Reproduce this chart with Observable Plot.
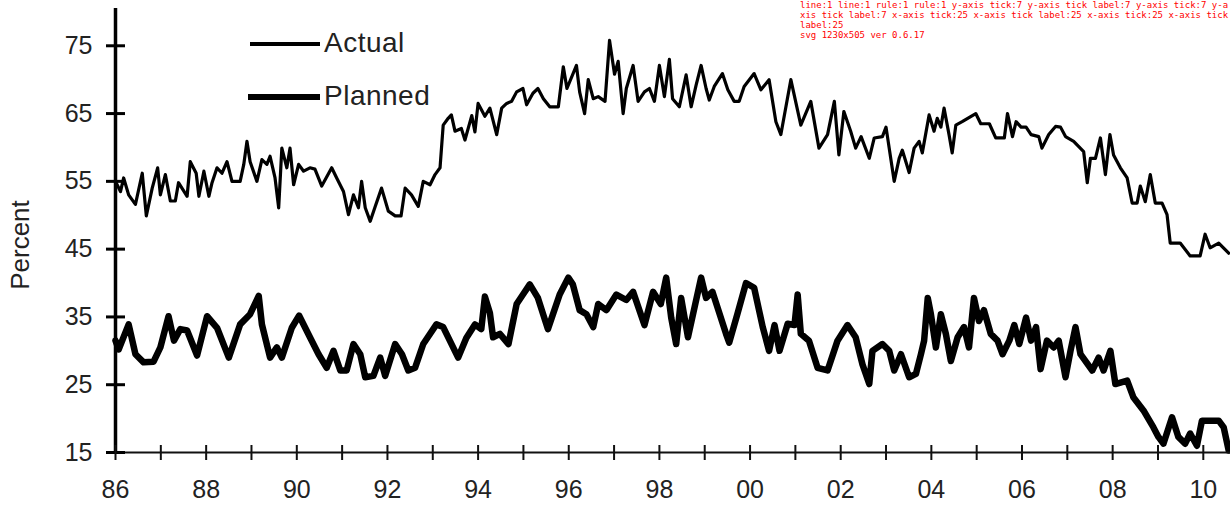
<!DOCTYPE html>
<html>
<head>
<meta charset="utf-8">
<script src="https://cdn.jsdelivr.net/npm/d3@7"></script>
<script src="https://cdn.jsdelivr.net/npm/@observablehq/plot@0.6"></script>
<style>
  html, body { margin: 0; padding: 0; background: #fff; }
  #wrap { position: relative; width: 1230px; height: 505px; overflow: hidden; }
  .leg-line { position: absolute; background: #000; }
  .leg-text { position: absolute; font-family: "Liberation Sans", Arial, sans-serif; font-size: 28px; line-height: 28px; letter-spacing: 0.5px; color: #222; white-space: nowrap; }
  #ylabel { position: absolute; font-family: "Liberation Sans", Arial, sans-serif; font-size: 26px; line-height: 30px; color: #222; white-space: nowrap; }
  #dbg { position: absolute; left: 800px; top: 0px; width: 430px; font: 9px monospace; color: red; white-space: pre-wrap; word-break: break-all; }
</style>
</head>
<body>
<div id="wrap"></div>
<script>
// ---- data ----
const actualYears = [1986.00,1986.11,1986.18,1986.29,1986.44,1986.59,1986.68,1986.81,1986.93,1986.99,1987.10,1987.21,1987.32,1987.39,1987.58,1987.65,1987.78,1987.84,1987.95,1988.06,1988.13,1988.24,1988.35,1988.46,1988.57,1988.75,1988.83,1988.90,1988.97,1989.12,1989.23,1989.34,1989.41,1989.52,1989.60,1989.67,1989.78,1989.85,1989.93,1990.04,1990.15,1990.29,1990.40,1990.55,1990.77,1990.88,1991.03,1991.14,1991.25,1991.36,1991.43,1991.51,1991.62,1991.73,1991.87,1992.02,1992.17,1992.30,1992.39,1992.53,1992.68,1992.79,1992.94,1993.05,1993.16,1993.23,1993.34,1993.41,1993.49,1993.63,1993.71,1993.86,1993.93,1994.00,1994.15,1994.26,1994.41,1994.52,1994.63,1994.74,1994.85,1994.99,1995.07,1995.21,1995.32,1995.44,1995.58,1995.77,1995.88,1995.96,1996.17,1996.24,1996.35,1996.43,1996.54,1996.65,1996.80,1996.90,1997.01,1997.09,1997.20,1997.27,1997.42,1997.53,1997.67,1997.78,1997.89,1998.00,1998.11,1998.22,1998.29,1998.44,1998.59,1998.70,1998.81,1998.92,1999.03,1999.10,1999.21,1999.39,1999.51,1999.65,1999.76,1999.87,2000.09,2000.24,2000.42,2000.57,2000.68,2000.90,2001.12,2001.34,2001.52,2001.71,2001.86,2001.96,2002.07,2002.22,2002.33,2002.45,2002.63,2002.74,2002.92,2003.00,2003.18,2003.29,2003.36,2003.51,2003.62,2003.73,2003.80,2003.95,2004.06,2004.13,2004.21,2004.28,2004.39,2004.46,2004.54,2004.68,2004.98,2005.09,2005.28,2005.42,2005.61,2005.68,2005.79,2005.87,2005.98,2006.09,2006.20,2006.37,2006.44,2006.59,2006.74,2006.85,2006.96,2007.14,2007.36,2007.44,2007.51,2007.62,2007.73,2007.84,2007.94,2008.02,2008.17,2008.32,2008.43,2008.54,2008.61,2008.72,2008.83,2008.94,2009.09,2009.20,2009.27,2009.49,2009.71,2009.93,2010.04,2010.15,2010.34,2010.56];
const actualValues = [55.0,53.5,55.5,53.0,51.6,56.2,49.9,54.0,57.0,53.0,56.0,52.1,52.1,54.8,52.8,57.9,56.2,52.8,56.5,52.8,54.8,57.0,56.2,57.9,55.0,55.0,57.5,60.9,57.9,55.0,58.2,57.5,58.7,55.5,51.1,59.9,57.0,59.9,54.5,57.5,56.5,57.0,56.8,54.3,57.0,55.5,53.5,50.1,53.0,51.1,55.0,51.1,49.1,51.3,54.0,50.6,49.9,49.9,54.0,53.0,51.3,55.0,54.5,56.0,57.0,63.3,64.3,64.8,62.4,62.8,61.1,64.7,62.3,66.5,64.6,65.8,61.9,65.8,66.5,66.8,68.2,68.7,66.3,68.0,68.7,67.2,66.0,66.0,71.9,68.7,72.1,68.2,65.0,70.0,67.2,67.5,66.8,75.8,70.8,72.7,65.0,68.7,72.1,66.8,68.2,68.7,66.8,72.1,67.5,73.0,67.2,66.0,70.7,66.0,69.2,72.1,68.7,67.0,69.0,70.9,68.5,66.8,66.8,69.0,70.9,68.5,70.0,63.8,61.9,70.0,63.3,66.8,59.9,61.9,66.8,58.9,65.3,62.4,59.9,61.6,58.4,61.4,61.6,63.0,55.0,58.4,59.6,56.3,59.9,60.9,59.2,64.8,62.4,64.3,63.0,65.8,61.9,59.2,63.3,63.8,65.0,63.5,63.5,61.4,61.4,65.0,61.6,63.8,63.0,63.0,61.9,61.6,59.9,61.9,63.1,63.0,61.6,60.9,59.4,54.8,58.4,58.4,61.4,56.0,61.9,58.9,57.0,55.5,51.8,51.8,54.3,52.0,56.0,51.8,51.8,50.1,45.9,45.9,44.0,44.0,47.2,45.2,45.9,44.4];

const plannedYears = [1986.00,1986.07,1986.29,1986.44,1986.62,1986.84,1986.99,1987.17,1987.29,1987.43,1987.58,1987.80,1988.02,1988.24,1988.50,1988.75,1988.97,1989.16,1989.23,1989.41,1989.56,1989.67,1989.89,1990.05,1990.29,1990.48,1990.66,1990.81,1990.96,1991.10,1991.25,1991.40,1991.51,1991.69,1991.84,1991.95,1992.17,1992.32,1992.46,1992.61,1992.79,1993.08,1993.23,1993.56,1993.74,1993.93,1994.07,1994.15,1994.26,1994.33,1994.48,1994.67,1994.85,1994.99,1995.14,1995.32,1995.54,1995.80,1995.99,1996.09,1996.24,1996.39,1996.54,1996.65,1996.83,1997.05,1997.27,1997.42,1997.67,1997.86,1998.03,1998.15,1998.26,1998.37,1998.48,1998.63,1998.92,1999.03,1999.17,1999.47,1999.54,1999.72,1999.91,2000.09,2000.28,2000.42,2000.54,2000.65,2000.83,2000.98,2001.05,2001.12,2001.30,2001.49,2001.71,2001.93,2002.15,2002.33,2002.48,2002.63,2002.70,2002.92,2003.07,2003.18,2003.33,2003.51,2003.66,2003.77,2003.84,2003.92,2003.99,2004.10,2004.21,2004.32,2004.43,2004.58,2004.72,2004.83,2004.94,2005.05,2005.16,2005.31,2005.46,2005.57,2005.72,2005.83,2005.94,2006.09,2006.20,2006.31,2006.41,2006.55,2006.70,2006.81,2006.96,2007.07,2007.18,2007.29,2007.55,2007.69,2007.80,2007.95,2008.06,2008.32,2008.46,2008.68,2008.90,2009.01,2009.12,2009.31,2009.45,2009.60,2009.71,2009.86,2009.97,2010.15,2010.34,2010.45,2010.56];
const plannedValues = [31.5,30.2,33.9,29.5,28.3,28.4,30.5,35.1,31.5,33.2,33.0,29.3,35.1,33.4,29.0,33.9,35.4,38.1,33.9,29.0,30.5,29.0,33.4,35.2,32.0,29.5,27.5,30.0,27.1,27.1,31.0,29.5,26.1,26.3,29.0,26.3,31.0,29.5,27.1,27.5,31.0,33.9,33.5,29.0,31.9,33.9,33.2,38.0,35.6,32.0,32.5,31.0,36.9,38.3,39.8,37.8,33.2,38.3,40.8,39.8,36.0,35.4,33.5,36.9,36.0,38.3,37.5,38.7,33.8,38.7,36.9,40.8,34.9,31.0,37.8,32.0,40.8,37.8,38.7,32.5,31.2,35.4,40.0,39.3,33.5,30.0,33.8,30.0,34.0,33.8,38.3,32.5,31.5,27.5,27.1,31.5,33.8,32.0,28.0,25.1,30.0,31.0,30.0,27.1,29.5,26.1,26.6,29.5,31.5,37.8,35.4,30.5,35.4,32.5,28.5,32.0,33.5,30.5,37.8,34.4,36.0,32.5,31.5,29.5,31.5,33.8,31.0,34.9,31.5,33.5,27.3,31.5,30.5,31.5,26.1,30.0,33.5,29.5,27.1,29.0,27.1,30.0,25.1,25.6,23.1,21.2,18.7,17.3,16.3,20.2,17.3,16.3,17.8,16.0,19.7,19.7,19.7,18.7,15.3];

const seriesNames = ["Actual", "Planned"];
const yTicks = [15, 25, 35, 45, 55, 65, 75];
const xTickYears = d3.range(1986, 2011);
const yLabelText = "Percent";

// ---- layout ----
const xDomain = [1986, 2010.6];
const yDomain = [15, 80.5];

const actual = actualYears.map((t, i) => ({t, v: actualValues[i]}));
const planned = plannedYears.map((t, i) => ({t, v: plannedValues[i]}));

let dbg = "";
const chart = Plot.plot({
  width: 1230, height: 505,
  marginLeft: 115, marginRight: 0, marginTop: 8, marginBottom: 53,
  style: {fontFamily: '"Liberation Sans", Arial, sans-serif', fontSize: "25px", color: "#222", background: "#fff", overflow: "visible"},
  x: {domain: xDomain},
  y: {domain: yDomain},
  marks: [
    Plot.line(planned, {x: "t", y: "v", stroke: "#000", strokeWidth: 6.5, strokeLinejoin: "round"}),
    Plot.line(actual, {x: "t", y: "v", stroke: "#000", strokeWidth: 3.2, strokeLinejoin: "round"}),
    Plot.ruleY([yDomain[0]], {x1: xDomain[0], x2: xDomain[1], stroke: "#111", strokeWidth: 2}),
    Plot.ruleX([xDomain[0]], {y1: yDomain[0], y2: yDomain[1], stroke: "#000", strokeWidth: 3.5}),
    Plot.axisY({ticks: yTicks, tickSize: 9, tickPadding: 14, label: null, fontSize: 25, stroke: "#000", strokeWidth: 3}),
    Plot.axisY({ticks: yTicks, tickSize: -10, text: null, label: null, stroke: "#000", strokeWidth: 3}),
    Plot.axisX({ticks: xTickYears, tickSize: 8, tickPadding: 20, label: null, fontSize: 25, stroke: "#111", strokeWidth: 2,
      tickFormat: d => (d % 2 === 0 ? String(d % 100).padStart(2, "0") : "")}),
    Plot.axisX({ticks: xTickYears, tickSize: -7, text: null, label: null, stroke: "#111", strokeWidth: 2})
  ]
});

const wrap = document.getElementById("wrap");
wrap.appendChild(chart);

for (const g of chart.querySelectorAll(":scope > g")) {
  dbg += (g.getAttribute("aria-label")) + ":" + g.children.length + " ";
}
const bb = chart.getBoundingClientRect();
dbg += "\nsvg " + bb.width + "x" + bb.height + " ver " + Plot.version;

// legend (HTML overlay)
const legendSpecs = [
  {name: seriesNames[0], top: 44, thick: 4, left: 250, len: 70},
  {name: seriesNames[1], top: 97, thick: 6, left: 248, len: 72}
];
for (const s of legendSpecs) {
  const ln = document.createElement("div");
  ln.className = "leg-line";
  ln.style.left = s.left + "px";
  ln.style.top = (s.top - s.thick / 2) + "px";
  ln.style.width = s.len + "px";
  ln.style.height = s.thick + "px";
  wrap.appendChild(ln);
  const tx = document.createElement("div");
  tx.className = "leg-text";
  tx.textContent = s.name;
  tx.style.left = (s.left + s.len + 4) + "px";
  tx.style.top = (s.top - 15) + "px";
  wrap.appendChild(tx);
}

const yl = document.createElement("div");
yl.id = "ylabel";
yl.textContent = yLabelText;
yl.style.width = "100px";
yl.style.textAlign = "center";
yl.style.left = (20 - 50) + "px";
yl.style.top = (245 - 15) + "px";
yl.style.transform = "rotate(-90deg)";
wrap.appendChild(yl);

const d = document.createElement("div");
d.id = "dbg";
d.textContent = dbg;
wrap.appendChild(d);
</script>
</body>
</html>
